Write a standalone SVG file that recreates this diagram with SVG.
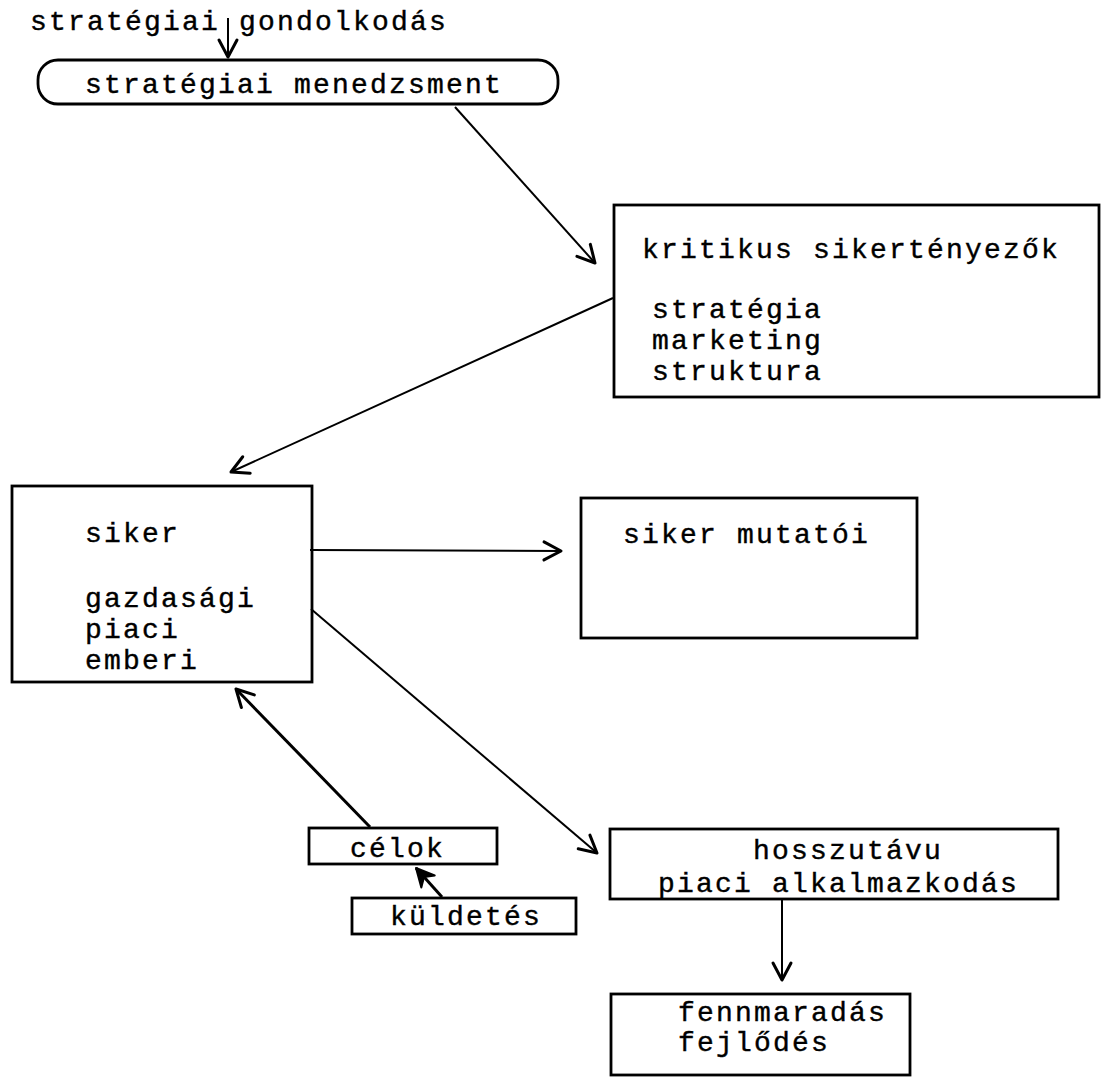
<svg xmlns="http://www.w3.org/2000/svg" width="1119" height="1077" viewBox="0 0 1119 1077">
  <style>
    .box { fill: none; stroke: #000; stroke-width: 2.8; }
    .lbl { font-family: "Liberation Mono", "DejaVu Sans Mono", monospace; font-size: 28px; letter-spacing: 2.2px; fill: #000; stroke: #000; stroke-width: 0.4; }
    .edge { fill: none; stroke: #000; stroke-width: 2; }
    .edge-bold { fill: none; stroke: #000; stroke-width: 3; }
  </style>
  <defs>
    <marker id="head" viewBox="-22 -14 26 28" refX="0" refY="0" markerWidth="26" markerHeight="28" markerUnits="userSpaceOnUse" orient="auto">
      <path d="M-17,-9 L0,0 L-17,9" fill="none" stroke="#000" stroke-width="3" stroke-linecap="round" stroke-linejoin="round"/>
    </marker>
    <marker id="head-solid" viewBox="-22 -14 26 28" refX="0" refY="0" markerWidth="26" markerHeight="28" markerUnits="userSpaceOnUse" orient="auto">
      <path d="M-18,-9 L0,0 L-18,9 L-12,0 Z" fill="#000" stroke="#000" stroke-width="2" stroke-linejoin="round"/>
    </marker>
  </defs>

  <rect width="1119" height="1077" fill="#fff"/>

  <!-- heading above the management box -->
  <g id="n-gondolkodas">
    <text class="lbl" x="30" y="30">stratégiai gondolkodás</text>
  </g>

  <g id="n-menedzsment">
    <rect class="box" x="38" y="60" width="520" height="44" rx="20" ry="20"/>
    <text class="lbl" x="85" y="93">stratégiai menedzsment</text>
  </g>

  <g id="n-sikertenyezok">
    <rect class="box" x="614" y="205" width="485" height="192"/>
    <text class="lbl" x="642" y="258">kritikus sikertényezők</text>
    <text class="lbl" x="652" y="318">stratégia</text>
    <text class="lbl" x="652" y="349">marketing</text>
    <text class="lbl" x="652" y="380">struktura</text>
  </g>

  <g id="n-siker">
    <rect class="box" x="12" y="486" width="300" height="196"/>
    <text class="lbl" x="85" y="542">siker</text>
    <text class="lbl" x="85" y="607">gazdasági</text>
    <text class="lbl" x="85" y="638">piaci</text>
    <text class="lbl" x="85" y="669">emberi</text>
  </g>

  <g id="n-mutatoi">
    <rect class="box" x="581" y="498" width="336" height="140"/>
    <text class="lbl" x="623" y="543">siker mutatói</text>
  </g>

  <g id="n-celok">
    <rect class="box" x="309" y="828" width="188" height="36"/>
    <text class="lbl" x="350" y="857">célok</text>
  </g>

  <g id="n-kuldetes">
    <rect class="box" x="352" y="898" width="224" height="36"/>
    <text class="lbl" x="390" y="925">küldetés</text>
  </g>

  <g id="n-alkalmazkodas">
    <rect class="box" x="610" y="829" width="448" height="70"/>
    <text class="lbl" x="753" y="859">hosszutávu</text>
    <text class="lbl" x="658" y="892">piaci alkalmazkodás</text>
  </g>

  <g id="n-fennmaradas">
    <rect class="box" x="611" y="994" width="299" height="81"/>
    <text class="lbl" x="678" y="1021">fennmaradás</text>
    <text class="lbl" x="678" y="1051">fejlődés</text>
  </g>

  <!-- connectors -->
  <g id="connectors">
    <line class="edge" x1="228" y1="18" x2="228" y2="57" marker-end="url(#head)"/>
    <line class="edge" x1="455" y1="107" x2="595" y2="263" marker-end="url(#head)"/>
    <line class="edge" x1="613" y1="298" x2="231" y2="472" marker-end="url(#head)"/>
    <line class="edge" x1="310" y1="550" x2="561" y2="551" marker-end="url(#head)"/>
    <line class="edge" x1="311" y1="609" x2="597" y2="853" marker-end="url(#head)"/>
    <line class="edge-bold" x1="370" y1="827" x2="236" y2="689" marker-end="url(#head)"/>
    <line class="edge-bold" x1="442" y1="897" x2="416" y2="868" marker-end="url(#head-solid)"/>
    <line class="edge" x1="782" y1="900" x2="782" y2="980" marker-end="url(#head)"/>
  </g>
</svg>
